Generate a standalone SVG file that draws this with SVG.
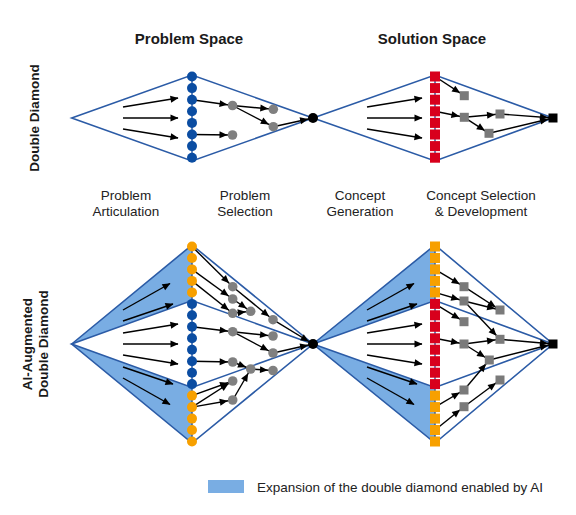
<svg xmlns="http://www.w3.org/2000/svg" width="576" height="515" viewBox="0 0 576 515">
<style>
.title{font-family:"Liberation Sans",Arial,sans-serif;font-weight:bold;font-size:15px;fill:#1a1a1a;text-anchor:middle}
.side{font-family:"Liberation Sans",Arial,sans-serif;font-weight:bold;font-size:13.5px;fill:#1a1a1a;text-anchor:middle}
.phase{font-family:"Liberation Sans",Arial,sans-serif;font-size:13.5px;fill:#222;text-anchor:middle}
.legend{font-family:"Liberation Sans",Arial,sans-serif;font-size:13.5px;fill:#222}
.edge{fill:none;stroke:#2B5BA6;stroke-width:1.6;stroke-linejoin:miter}
.shade{fill:#79ADE3;stroke:none}
.spine{stroke:#2B5BA6;stroke-width:1.5}
.bd{fill:#0B4DA2}
.od{fill:#F7A000}
.rs{fill:#D8001C}
.gc{fill:#808080}
.gs{fill:#7A7A7A}
.k{fill:#000}
.a{stroke:#000;stroke-width:1.4;fill:none;marker-end:url(#ah)}
.n{stroke:#000;stroke-width:1.4;fill:none;marker-end:url(#ahn)}
</style>
<defs>
<marker id="ah" markerUnits="userSpaceOnUse" markerWidth="8" markerHeight="7" refX="7.5" refY="3.5" orient="auto" overflow="visible"><path d="M0,0 L8,3.5 L0,7 z" fill="#000"/></marker>
<marker id="ahn" markerUnits="userSpaceOnUse" markerWidth="8" markerHeight="7" refX="13" refY="3.5" orient="auto" overflow="visible"><path d="M0,0 L8,3.5 L0,7 z" fill="#000"/></marker>
</defs>
<rect width="576" height="515" fill="#fff"/>

<g id="labels">
<text class="title" x="189" y="44">Problem Space</text>
<text class="title" x="432" y="44">Solution Space</text>
<text class="side" transform="translate(39,118) rotate(-90)">Double Diamond</text>
<text class="side" transform="translate(32,344) rotate(-90)">AI-Augmented</text>
<text class="side" transform="translate(48,344) rotate(-90)">Double Diamond</text>
<text class="phase" x="126" y="199.5">Problem</text>
<text class="phase" x="126" y="216">Articulation</text>
<text class="phase" x="245" y="199.5">Problem</text>
<text class="phase" x="245" y="216">Selection</text>
<text class="phase" x="360" y="199.5">Concept</text>
<text class="phase" x="360" y="216">Generation</text>
<text class="phase" x="481" y="199.5">Concept Selection</text>
<text class="phase" x="481" y="216">&amp; Development</text>
</g>

<g id="diamonds">
<polygon class="edge" points="71.7,118 192,75 313,118 192,161"/>
<polygon class="edge" points="313,118 435,75 553,118 435,161"/>
<polygon class="shade" points="71.7,344 192,245 192,300.5"/>
<polygon class="shade" points="71.7,344 192,387.5 192,443"/>
<polygon class="shade" points="313,344 435,245 435,300.5"/>
<polygon class="shade" points="313,344 435,387.5 435,443"/>
<polygon class="edge" points="71.7,344 192,245 313,344 192,443"/>
<polygon class="edge" points="71.7,344 192,300.5 313,344 192,387.5"/>
<polygon class="edge" points="313,344 435,245 553,344 435,443"/>
<polygon class="edge" points="313,344 435,300.5 553,344 435,387.5"/>
</g>

<g id="connectors">
<!-- top row, left halves -->
<line class="a" x1="123" y1="107" x2="178" y2="98"/>
<line class="a" x1="123" y1="118" x2="178" y2="118"/>
<line class="a" x1="123" y1="129" x2="178" y2="138"/>
<line class="a" x1="367" y1="107" x2="422" y2="98"/>
<line class="a" x1="367" y1="118" x2="422" y2="118"/>
<line class="a" x1="367" y1="129" x2="422" y2="138"/>
<!-- top row, problem selection -->
<line class="n" x1="192" y1="99.7" x2="232.5" y2="105.5"/>
<line class="n" x1="192" y1="134.5" x2="232.5" y2="135"/>
<line class="n" x1="232.5" y1="105.5" x2="273.3" y2="109.3"/>
<line class="n" x1="232.5" y1="105.5" x2="273.3" y2="126.7"/>
<line class="n" x1="273.3" y1="126.7" x2="313" y2="118"/>
<!-- top row, concept selection -->
<line class="n" x1="435" y1="76.5" x2="464.3" y2="95.7"/>
<line class="n" x1="435" y1="111.3" x2="464.3" y2="117.3"/>
<line class="n" x1="464.3" y1="117.3" x2="500" y2="114"/>
<line class="n" x1="464.3" y1="117.3" x2="489" y2="133.3"/>
<line class="n" x1="500" y1="114" x2="553" y2="118"/>
<line class="n" x1="489" y1="133.3" x2="553" y2="118"/>
<!-- bottom row, left halves -->
<line class="a" x1="123" y1="310" x2="170" y2="283.5"/>
<line class="a" x1="123" y1="321" x2="173" y2="304"/>
<line class="a" x1="123" y1="333" x2="178" y2="324"/>
<line class="a" x1="123" y1="344" x2="178" y2="344"/>
<line class="a" x1="123" y1="355" x2="178" y2="364"/>
<line class="a" x1="123" y1="367" x2="173" y2="384"/>
<line class="a" x1="123" y1="378" x2="170" y2="404.5"/>
<line class="a" x1="367" y1="310" x2="414" y2="283.5"/>
<line class="a" x1="367" y1="321" x2="417" y2="304"/>
<line class="a" x1="367" y1="333" x2="422" y2="324"/>
<line class="a" x1="367" y1="344" x2="422" y2="344"/>
<line class="a" x1="367" y1="355" x2="422" y2="364"/>
<line class="a" x1="367" y1="367" x2="417" y2="384"/>
<line class="a" x1="367" y1="378" x2="414" y2="404.5"/>
<!-- bottom row, problem selection -->
<line class="n" x1="192" y1="246.5" x2="232.7" y2="286.7"/>
<line class="n" x1="192" y1="269.4" x2="232.7" y2="299"/>
<line class="n" x1="192" y1="280.9" x2="232.7" y2="313.3"/>
<line class="n" x1="232.7" y1="286.7" x2="273" y2="319.7"/>
<line class="n" x1="232.7" y1="299" x2="250.7" y2="311.3"/>
<line class="n" x1="232.7" y1="313.3" x2="250.7" y2="311.3"/>
<line class="n" x1="273" y1="319.7" x2="313" y2="344"/>
<line class="n" x1="192" y1="326.8" x2="232.7" y2="331.7"/>
<line class="n" x1="232.7" y1="331.7" x2="273" y2="336"/>
<line class="n" x1="232.7" y1="331.7" x2="273" y2="353"/>
<line class="n" x1="273" y1="353" x2="313" y2="344"/>
<line class="n" x1="192" y1="361.2" x2="232.7" y2="362"/>
<line class="n" x1="232.7" y1="362" x2="250.7" y2="369"/>
<line class="n" x1="250.7" y1="369" x2="273" y2="370.5"/>
<line class="n" x1="192" y1="395.6" x2="232.7" y2="381"/>
<line class="n" x1="192" y1="407.1" x2="232.7" y2="381"/>
<line class="n" x1="192" y1="407.1" x2="232.7" y2="400"/>
<line class="n" x1="232.7" y1="400" x2="250.7" y2="369"/>
<!-- bottom row, concept selection -->
<line class="n" x1="435" y1="269.4" x2="464" y2="286.7"/>
<line class="n" x1="435" y1="292.4" x2="464" y2="301"/>
<line class="n" x1="464" y1="286.7" x2="500" y2="310"/>
<line class="n" x1="464" y1="301" x2="500" y2="310"/>
<line class="n" x1="464" y1="301" x2="500" y2="339.3"/>
<line class="n" x1="435" y1="303.9" x2="464" y2="321.7"/>
<line class="n" x1="435" y1="338.3" x2="464" y2="344"/>
<line class="n" x1="464" y1="344" x2="500" y2="339.3"/>
<line class="n" x1="464" y1="344" x2="489.3" y2="360"/>
<line class="n" x1="500" y1="339.3" x2="553" y2="344"/>
<line class="n" x1="489.3" y1="360" x2="553" y2="344"/>
<line class="n" x1="435" y1="407.1" x2="464" y2="390"/>
<line class="n" x1="435" y1="430" x2="464" y2="406.7"/>
<line class="n" x1="464" y1="390" x2="489.3" y2="360"/>
<line class="n" x1="464" y1="406.7" x2="500" y2="380"/>
</g>

<g id="col-problem-dd">
<line class="spine" x1="192" y1="76.5" x2="192" y2="157.7"/>
<circle class="bd" cx="192" cy="76.5" r="5"/><circle class="bd" cx="192" cy="88.1" r="5"/>
<circle class="bd" cx="192" cy="99.7" r="5"/><circle class="bd" cx="192" cy="111.3" r="5"/>
<circle class="bd" cx="192" cy="122.9" r="5"/><circle class="bd" cx="192" cy="134.5" r="5"/>
<circle class="bd" cx="192" cy="146.1" r="5"/><circle class="bd" cx="192" cy="157.7" r="5"/>
</g>
<g id="col-concept-dd">
<line class="spine" x1="435" y1="76.5" x2="435" y2="157.7"/>
<rect class="rs" x="430" y="71.5" width="10" height="10"/><rect class="rs" x="430" y="83.1" width="10" height="10"/>
<rect class="rs" x="430" y="94.7" width="10" height="10"/><rect class="rs" x="430" y="106.3" width="10" height="10"/>
<rect class="rs" x="430" y="117.9" width="10" height="10"/><rect class="rs" x="430" y="129.5" width="10" height="10"/>
<rect class="rs" x="430" y="141.1" width="10" height="10"/><rect class="rs" x="430" y="152.7" width="10" height="10"/>
</g>
<g id="ps-dd-1"><circle class="gc" cx="232.5" cy="105.5" r="4.8"/></g>
<g id="ps-dd-2"><circle class="gc" cx="232.5" cy="135" r="4.8"/></g>
<g id="ps-dd-3"><circle class="gc" cx="273.3" cy="109.3" r="4.8"/></g>
<g id="ps-dd-4"><circle class="gc" cx="273.3" cy="126.7" r="4.8"/></g>
<g id="problem-dd"><circle class="k" cx="313" cy="118" r="5"/></g>
<g id="cs-dd-1"><rect class="gs" x="459.8" y="91.2" width="9" height="9"/></g>
<g id="cs-dd-2"><rect class="gs" x="459.8" y="112.8" width="9" height="9"/></g>
<g id="cs-dd-3"><rect class="gs" x="495.5" y="109.5" width="9" height="9"/></g>
<g id="cs-dd-4"><rect class="gs" x="484.5" y="128.8" width="9" height="9"/></g>
<g id="solution-dd"><rect class="k" x="548.5" y="113.5" width="9" height="9"/></g>

<g id="col-problem-ai">
<line class="spine" x1="192" y1="246.5" x2="192" y2="441.5"/>
<circle class="od" cx="192" cy="246.5" r="5"/><circle class="od" cx="192" cy="258" r="5"/>
<circle class="od" cx="192" cy="269.4" r="5"/><circle class="od" cx="192" cy="280.9" r="5"/>
<circle class="od" cx="192" cy="292.4" r="5"/>
<circle class="bd" cx="192" cy="303.9" r="5"/><circle class="bd" cx="192" cy="315.3" r="5"/>
<circle class="bd" cx="192" cy="326.8" r="5"/><circle class="bd" cx="192" cy="338.3" r="5"/>
<circle class="bd" cx="192" cy="349.7" r="5"/><circle class="bd" cx="192" cy="361.2" r="5"/>
<circle class="bd" cx="192" cy="372.7" r="5"/><circle class="bd" cx="192" cy="384.1" r="5"/>
<circle class="od" cx="192" cy="395.6" r="5"/><circle class="od" cx="192" cy="407.1" r="5"/>
<circle class="od" cx="192" cy="418.6" r="5"/><circle class="od" cx="192" cy="430" r="5"/>
<circle class="od" cx="192" cy="441.5" r="5"/>
</g>
<g id="col-concept-ai">
<line class="spine" x1="435" y1="246.5" x2="435" y2="441.5"/>
<rect class="od" x="430" y="241.5" width="10" height="10"/><rect class="od" x="430" y="253" width="10" height="10"/>
<rect class="od" x="430" y="264.4" width="10" height="10"/><rect class="od" x="430" y="275.9" width="10" height="10"/>
<rect class="od" x="430" y="287.4" width="10" height="10"/>
<rect class="rs" x="430" y="298.9" width="10" height="10"/><rect class="rs" x="430" y="310.3" width="10" height="10"/>
<rect class="rs" x="430" y="321.8" width="10" height="10"/><rect class="rs" x="430" y="333.3" width="10" height="10"/>
<rect class="rs" x="430" y="344.7" width="10" height="10"/><rect class="rs" x="430" y="356.2" width="10" height="10"/>
<rect class="rs" x="430" y="367.7" width="10" height="10"/><rect class="rs" x="430" y="379.1" width="10" height="10"/>
<rect class="od" x="430" y="390.6" width="10" height="10"/><rect class="od" x="430" y="402.1" width="10" height="10"/>
<rect class="od" x="430" y="413.6" width="10" height="10"/><rect class="od" x="430" y="425" width="10" height="10"/>
<rect class="od" x="430" y="436.5" width="10" height="10"/>
</g>
<g id="ps-ai-1"><circle class="gc" cx="232.7" cy="286.7" r="4.8"/></g>
<g id="ps-ai-2"><circle class="gc" cx="232.7" cy="299" r="4.8"/></g>
<g id="ps-ai-3"><circle class="gc" cx="232.7" cy="313.3" r="4.8"/></g>
<g id="ps-ai-4"><circle class="gc" cx="250.7" cy="311.3" r="4.8"/></g>
<g id="ps-ai-5"><circle class="gc" cx="273" cy="319.7" r="4.8"/></g>
<g id="ps-ai-6"><circle class="gc" cx="232.7" cy="331.7" r="4.8"/></g>
<g id="ps-ai-7"><circle class="gc" cx="273" cy="336" r="4.8"/></g>
<g id="ps-ai-8"><circle class="gc" cx="273" cy="353" r="4.8"/></g>
<g id="ps-ai-9"><circle class="gc" cx="232.7" cy="362" r="4.8"/></g>
<g id="ps-ai-10"><circle class="gc" cx="250.7" cy="369" r="4.8"/></g>
<g id="ps-ai-11"><circle class="gc" cx="273" cy="370.5" r="4.8"/></g>
<g id="ps-ai-12"><circle class="gc" cx="232.7" cy="381" r="4.8"/></g>
<g id="ps-ai-13"><circle class="gc" cx="232.7" cy="400" r="4.8"/></g>
<g id="problem-ai"><circle class="k" cx="313" cy="344" r="5"/></g>
<g id="cs-ai-1"><rect class="gs" x="459.5" y="282.2" width="9" height="9"/></g>
<g id="cs-ai-2"><rect class="gs" x="459.5" y="296.5" width="9" height="9"/></g>
<g id="cs-ai-3"><rect class="gs" x="495.5" y="305.5" width="9" height="9"/></g>
<g id="cs-ai-4"><rect class="gs" x="459.5" y="317.2" width="9" height="9"/></g>
<g id="cs-ai-5"><rect class="gs" x="459.5" y="339.5" width="9" height="9"/></g>
<g id="cs-ai-6"><rect class="gs" x="495.5" y="334.8" width="9" height="9"/></g>
<g id="cs-ai-7"><rect class="gs" x="484.8" y="355.5" width="9" height="9"/></g>
<g id="cs-ai-8"><rect class="gs" x="495.5" y="375.5" width="9" height="9"/></g>
<g id="cs-ai-9"><rect class="gs" x="459.5" y="385.5" width="9" height="9"/></g>
<g id="cs-ai-10"><rect class="gs" x="459.5" y="402.2" width="9" height="9"/></g>
<g id="solution-ai"><rect class="k" x="548.5" y="339.5" width="9" height="9"/></g>

<g id="legend">
<rect class="shade" x="208" y="480" width="36" height="13"/>
<text class="legend" x="257" y="492">Expansion of the double diamond enabled by AI</text>
</g>
</svg>
